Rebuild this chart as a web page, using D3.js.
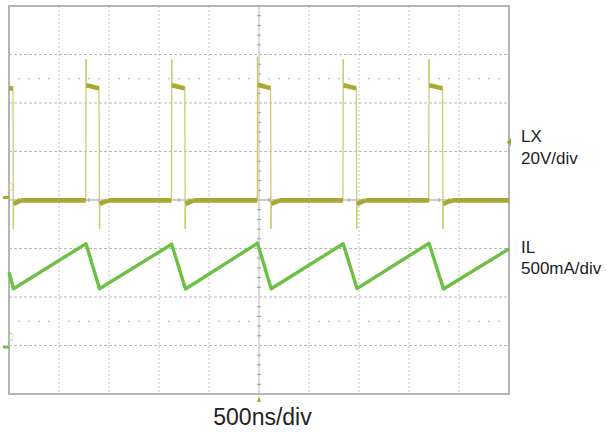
<!DOCTYPE html>
<html>
<head>
<meta charset="utf-8">
<script src="https://cdn.jsdelivr.net/npm/d3@7"></script>
<style>
  html, body { margin: 0; padding: 0; background: #fff; }
  svg { display: block; font-family: "Liberation Sans", Arial, sans-serif; }
</style>
</head>
<body>
<div id="wrapper"></div>
<script>
// scope capture: LX switch node + inductor current

// LX trace (ns, volts)
const lxTimeNs = [0, 40, 43, 46, 120, 768, 770, 773, 900, 905, 908, 990,
  1625, 1627, 1630, 1758, 1762, 1765, 1850,
  2483, 2485, 2488, 2616, 2620, 2623, 2710,
  3340, 3342, 3345, 3473, 3477, 3480, 3565,
  4198, 4200, 4203, 4336, 4340, 4343, 4430, 5000];
const lxVolt = [45.2, 44.8, -13, -2.6, -1.2, -1.2, 57, 46.3, 45.0, -13, -2.6, -1.2,
  -1.2, 57, 46.3, 45.0, -13, -2.6, -1.2,
  -1.2, 58, 46.5, 45.1, -13, -2.6, -1.2,
  -1.2, 57, 46.3, 45.0, -13, -2.6, -1.2,
  -1.2, 57, 46.3, 45.0, -13, -2.6, -1.2, -1.2];

// IL trace (ns, mA)
const ilTimeNs = [0, 45, 770, 905, 1627, 1765, 2485, 2622, 3342, 3480, 4200, 4345, 5000];
const ilMilliAmp = [770, 600, 1065, 600, 1060, 598, 1070, 600, 1065, 602, 1070, 598, 1012];

const channelNames = ["LX", "IL"];
const channelScales = ["20V/div", "500mA/div"];
const timeBase = "500ns/div";
const timeTicks = d3.range(0, 5001, 500);

const W = 607, H = 434;
const pLeft = 9, pRight = 509, pTop = 6, pBottom = 394;
const divY = (pBottom - pTop) / 8;

const x = d3.scaleLinear().domain([0, 5000]).range([pLeft, pRight]);
const yLX = d3.scaleLinear().domain([0, 20]).range([197.5, 197.5 - divY]);
const yIL = d3.scaleLinear().domain([0, 500]).range([347, 347 - divY]);
const rowY = d3.range(0, 9).map(i => pTop + i * divY);

const svg = d3.select('#wrapper').append('svg')
  .attr('width', W)
  .attr('height', H)
  .attr('viewBox', [0, 0, W, H]);

// graticule
const grid = svg.append('g');
grid.append('g').selectAll('line')
  .data(timeTicks.slice(1, -1).filter(t => t !== 2500))
  .join('line')
  .attr('x1', d => x(d)).attr('x2', d => x(d))
  .attr('y1', pTop).attr('y2', pBottom)
  .attr('stroke', '#c4c4c4')
  .attr('stroke-dasharray', '2,2');
grid.append('g').selectAll('line')
  .data(rowY.slice(1, -1).filter((d, i) => i !== 3))
  .join('line')
  .attr('x1', pLeft).attr('x2', pRight)
  .attr('y1', d => d).attr('y2', d => d)
  .attr('stroke', '#b8b8b8')
  .attr('stroke-width', 1.2)
  .attr('stroke-dasharray', '3,2');

// dotted marker rows
const dotX = d3.range(0, 5000, 100).filter(t => t % 500 !== 0);
[pTop + 1.5 * divY, pTop + 6.5 * divY].forEach(yy => {
  grid.append('g').selectAll('circle')
    .data(dotX)
    .join('circle')
    .attr('cx', d => x(d))
    .attr('cy', yy)
    .attr('r', 0.8)
    .attr('fill', '#aaa');
});

// centre cross with minor ticks
const cx = x(2500), cy = rowY[4];
grid.append('line')
  .attr('x1', cx).attr('x2', cx).attr('y1', pTop).attr('y2', pBottom)
  .attr('stroke', '#cfcfcf').attr('stroke-width', 1.5);
grid.append('line')
  .attr('x1', pLeft).attr('x2', pRight).attr('y1', cy).attr('y2', cy)
  .attr('stroke', '#bdbdbd').attr('stroke-width', 1.5);
grid.append('g').selectAll('line')
  .data(d3.range(1, 40).filter(i => i % 5 !== 0))
  .join('line')
  .attr('x1', cx - 2).attr('x2', cx + 2)
  .attr('y1', i => pTop + i * divY / 5).attr('y2', i => pTop + i * divY / 5)
  .attr('stroke', '#9a9a9a');
grid.append('g').selectAll('line')
  .data(d3.range(100, 5000, 100).filter(t => t % 500 !== 0))
  .join('line')
  .attr('x1', d => x(d)).attr('x2', d => x(d))
  .attr('y1', cy - 2).attr('y2', cy + 2)
  .attr('stroke', '#9a9a9a');

// frame
svg.append('rect')
  .attr('x', pLeft).attr('y', pTop)
  .attr('width', pRight - pLeft).attr('height', pBottom - pTop)
  .attr('fill', 'none')
  .attr('stroke', '#b4b4b4')
  .attr('stroke-width', 2);

// LX: fast edges thin and pale, settled parts thick
const lxPts = lxTimeNs.map((t, i) => [x(t), yLX(lxVolt[i])]);
const lxSegs = d3.pairs(lxPts).map(([a, b]) => ({
  a, b, steep: Math.abs(b[1] - a[1]) > 6 && Math.abs(b[1] - a[1]) > 3 * Math.abs(b[0] - a[0])
}));
svg.append('g').selectAll('line')
  .data(lxSegs.filter(d => d.steep))
  .join('line')
  .attr('x1', d => d.a[0]).attr('y1', d => d.a[1])
  .attr('x2', d => d.b[0]).attr('y2', d => d.b[1])
  .attr('stroke', '#cccc72')
  .attr('stroke-width', 1.3);
svg.append('g').selectAll('line')
  .data(lxSegs.filter(d => !d.steep))
  .join('line')
  .attr('x1', d => d.a[0]).attr('y1', d => d.a[1])
  .attr('x2', d => d.b[0]).attr('y2', d => d.b[1])
  .attr('stroke', '#a9a832')
  .attr('stroke-width', 4.6)
  .attr('stroke-linecap', 'butt');

// IL
const ilLine = d3.line()
  .x((d, i) => x(ilTimeNs[i]))
  .y(d => yIL(d));
svg.append('path')
  .attr('d', ilLine(ilMilliAmp))
  .attr('fill', 'none')
  .attr('stroke', '#6cc043')
  .attr('stroke-width', 3.4)
  .attr('stroke-linejoin', 'round');

// channel markers
svg.append('rect').attr('x', 3).attr('y', yLX(0) - 1.5).attr('width', 6).attr('height', 3).attr('fill', '#a9a832');
svg.append('text').attr('transform', `translate(8,${yLX(0) - 10}) rotate(90)`)
  .attr('font-size', 7).attr('fill', '#d2d28a').attr('text-anchor', 'middle').text('C1');
svg.append('rect').attr('x', 3).attr('y', yIL(0) - 1.5).attr('width', 6).attr('height', 3).attr('fill', '#6cc043');
svg.append('text').attr('transform', `translate(8,${yIL(0) - 10}) rotate(90)`)
  .attr('font-size', 7).attr('fill', '#9fd883').attr('text-anchor', 'middle').text('C2');

// trigger level and position
svg.append('path')
  .attr('d', `M${pRight + 2},${138} L${pRight - 2.5},${142} L${pRight + 2},${146} Z`)
  .attr('fill', '#a9a832');
svg.append('path')
  .attr('d', `M${cx - 2},${402} L${cx},${396} L${cx + 2},${402} Z`)
  .attr('fill', '#a9a832');

// labels
const lab = svg.append('g').attr('font-size', 17).attr('fill', '#222');
lab.append('text').attr('x', 521).attr('y', 141.5).text(channelNames[0]);
lab.append('text').attr('x', 521).attr('y', 163.5).text(channelScales[0]);
lab.append('text').attr('x', 521).attr('y', 252.5).text(channelNames[1]);
lab.append('text').attr('x', 521).attr('y', 274).text(channelScales[1]);

svg.append('text')
  .attr('x', 262.5).attr('y', 424.5)
  .attr('text-anchor', 'middle')
  .attr('font-size', 23)
  .attr('fill', '#222')
  .text(timeBase);
</script>
</body>
</html>
